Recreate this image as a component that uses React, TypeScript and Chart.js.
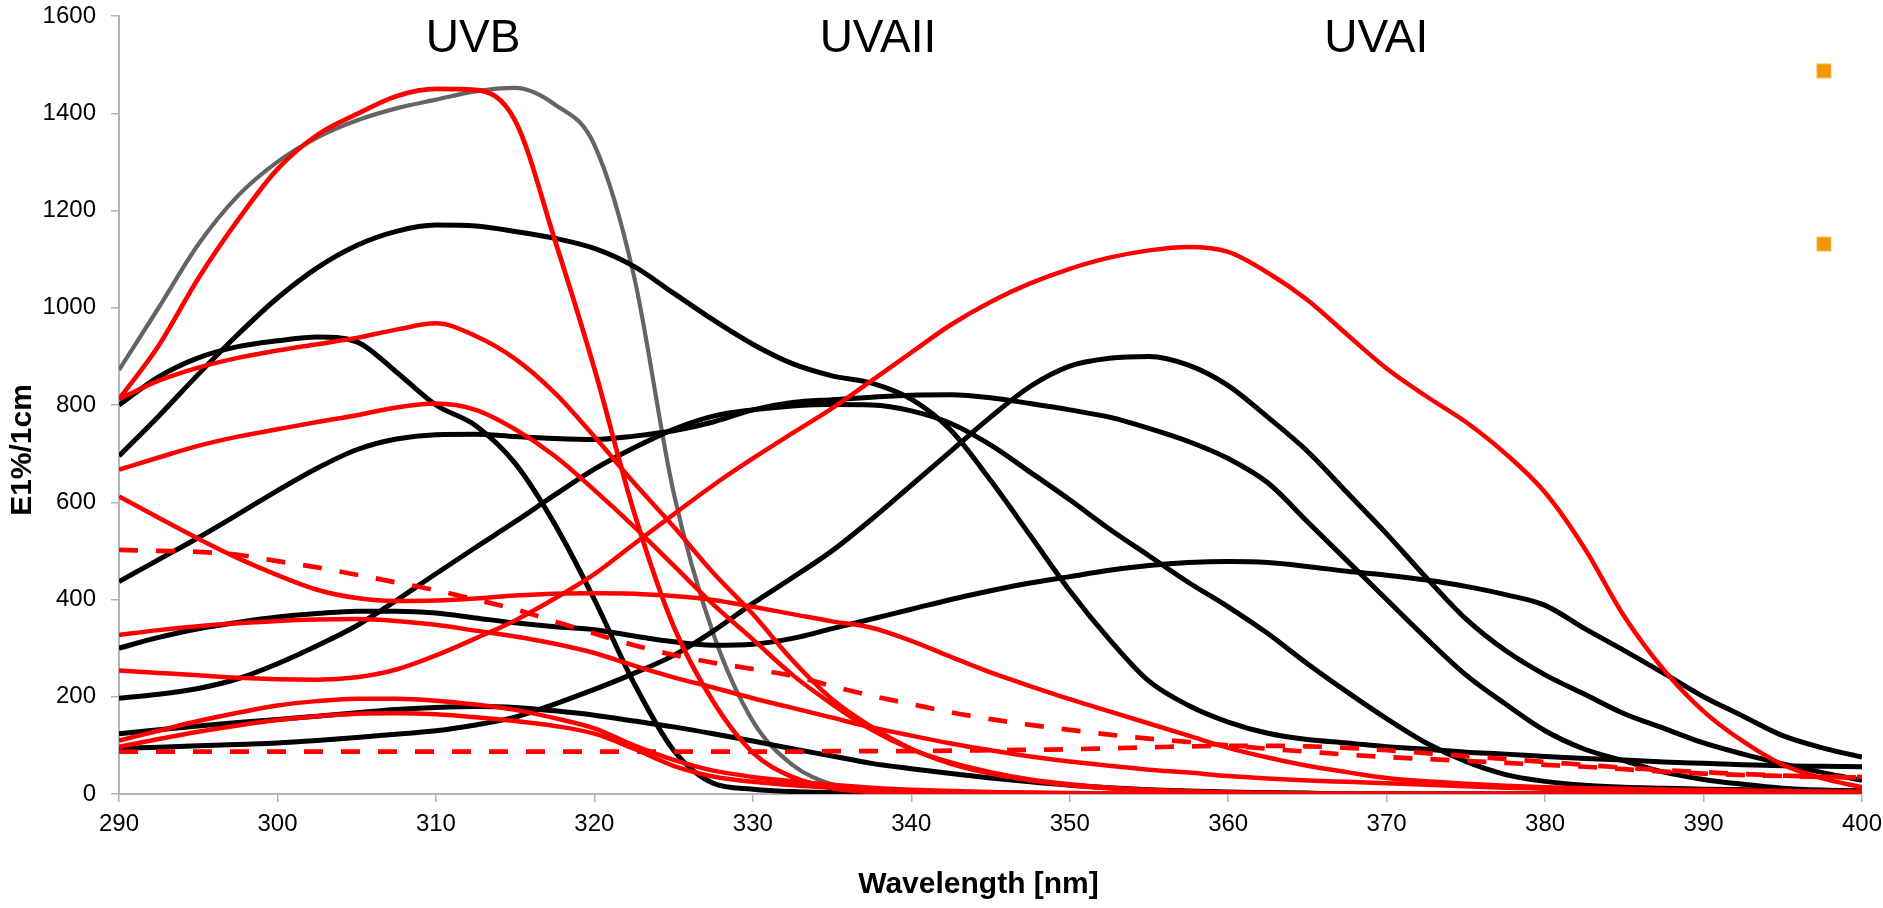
import React, { useEffect, useRef } from "react";
import { Chart, registerables } from "chart.js";

Chart.register(...registerables);

// ---------- data ----------
const wavelengths = [
  290, 292.5, 295, 297.5, 300, 302.5, 305, 307.5, 310, 312.5, 315, 317.5, 320, 322.5, 325,
  327.5, 330, 332.5, 335, 337.5, 340, 342.5, 345, 347.5, 350, 352.5, 355, 357.5, 360, 362.5,
  365, 367.5, 370, 372.5, 375, 377.5, 380, 382.5, 385, 387.5, 390, 392.5, 395, 397.5, 400,
];

const xTicks = [290, 300, 310, 320, 330, 340, 350, 360, 370, 380, 390, 400];
const yTicks = [0, 200, 400, 600, 800, 1000, 1200, 1400, 1600];

// grey UVB filter
const grayUVB = [
  872, 1000, 1130, 1230, 1300, 1350, 1385, 1410, 1428, 1445, 1452, 1418, 1335, 1065, 620,
  330, 150, 60, 20, 6, 1, 0, 0, 0, 0, 0, 0, 0, 0, 0,
  0, 0, 0, 0, 0, 0, 0, 0, 0, 0, 0, 0, 0, 0, 0,
];

// red solid curves
const redUVBHigh = [
  812, 922, 1060, 1180, 1285, 1355, 1398, 1435, 1450, 1448, 1385, 1140, 875, 580, 345,
  190, 85, 35, 12, 4, 0, 0, 0, 0, 0, 0, 0, 0, 0, 0,
  0, 0, 0, 0, 0, 0, 0, 0, 0, 0, 0, 0, 0, 0, 0,
];
const redPeak965 = [
  812, 850, 877, 897, 912, 925, 938, 955, 968, 942, 895, 825, 735, 640, 550,
  455, 370, 275, 195, 138, 93, 62, 42, 28, 18, 12, 8, 5, 3, 2,
  1, 0, 0, 0, 0, 0, 0, 0, 0, 0, 0, 0, 0, 0, 0,
];
const redPeak805 = [
  667, 692, 716, 735, 750, 765, 779, 795, 803, 790, 750, 695, 625, 550, 470,
  390, 318, 245, 185, 132, 92, 65, 45, 30, 20, 13, 8, 5, 3, 2,
  1, 0, 0, 0, 0, 0, 0, 0, 0, 0, 0, 0, 0, 0, 0,
];
const redPlateau410 = [
  612, 568, 525, 485, 450, 420, 403, 397, 398, 402, 408, 412, 413, 412, 407,
  399, 385, 370, 355, 342, 315, 282, 250, 222, 195, 170, 145, 120, 95, 75,
  58, 45, 33, 26, 21, 17, 14, 12, 11, 9, 8, 7, 6, 5, 5,
];
const redStart327 = [
  327, 337, 345, 351, 356, 359, 360, 356, 348, 336, 324, 309, 290, 264, 240,
  219, 197, 177, 157, 137, 120, 104, 90, 77, 67, 58, 50, 44, 37, 32,
  28, 25, 22, 19, 16, 13, 11, 9, 8, 7, 6, 5, 4, 4, 3,
];
const redUVAI = [
  254, 249, 244, 239, 236, 235, 240, 256, 285, 320, 357, 402, 452, 514, 575,
  635, 690, 742, 793, 850, 908, 965, 1012, 1050, 1080, 1103, 1118, 1125, 1115, 1072,
  1016, 945, 875, 818, 765, 700, 620, 505, 365, 255, 170, 108, 60, 32, 14,
];
const redPeak197 = [
  110, 130, 150, 167, 182, 191, 196, 196, 192, 184, 173, 156, 135, 100, 70,
  48, 35, 26, 19, 13, 9, 6, 4, 3, 2, 1, 0, 0, 0, 0,
  0, 0, 0, 0, 0, 0, 0, 0, 0, 0, 0, 0, 0, 0, 0,
];
const redPeak166 = [
  97, 113, 128, 141, 152, 160, 165, 166, 164, 158, 150, 140, 124, 93, 58,
  36, 25, 18, 13, 9, 6, 4, 3, 2, 1, 0, 0, 0, 0, 0,
  0, 0, 0, 0, 0, 0, 0, 0, 0, 0, 0, 0, 0, 0, 0,
];

// red dashed curves
const redDashedFalling = [
  502, 500, 498, 492, 479, 466, 451, 435, 419, 400, 380, 355, 330, 306, 286,
  270, 257, 243, 222, 202, 185, 168, 154, 142, 132, 122, 114, 107, 100, 93,
  87, 81, 76, 72, 68, 64, 60, 56, 51, 46, 42, 39, 37, 35, 34,
];
const redDashedFlat = [
  87, 87, 87, 87, 87, 87, 87, 87, 87, 87, 87, 87, 87, 87, 87,
  87, 87, 87, 88, 88, 88, 89, 90, 91, 92, 94, 96, 98, 99, 99,
  98, 95, 90, 84, 78, 72, 66, 60, 54, 49, 45, 41, 38, 36, 35,
];

// black curves
const blackPeak935 = [
  800, 858, 897, 920, 932, 940, 930, 868, 800, 758, 680, 555, 400, 228, 90,
  22, 10, 5, 3, 2, 1, 0, 0, 0, 0, 0, 0, 0, 0, 0,
  0, 0, 0, 0, 0, 0, 0, 0, 0, 0, 0, 0, 0, 0, 0,
];
const blackPeak1170 = [
  695, 777, 863, 945, 1020, 1082, 1128, 1157, 1170, 1168, 1157, 1143, 1122, 1085, 1030,
  975, 925, 885, 860, 845, 812, 748, 645, 532, 418, 318, 232, 182, 148, 125,
  112, 105, 97, 92, 86, 82, 77, 73, 70, 66, 63, 60, 58, 57, 56,
];
const blackPlateau735 = [
  437, 482, 527, 575, 624, 670, 708, 730, 739, 740, 735, 731, 729, 736, 747,
  765, 790, 805, 811, 816, 820, 821, 815, 803, 790, 775, 752, 725, 690, 640,
  560, 480, 400, 320, 245, 185, 130, 92, 68, 45, 30, 20, 12, 8, 6,
];
const blackPeak800 = [
  197, 205, 217, 237, 268, 305, 346, 398, 453, 507, 560, 615, 668, 712, 750,
  777, 790, 798, 801, 800, 788, 762, 718, 662, 605, 545, 490, 435, 385, 330,
  268, 210, 155, 105, 67, 40, 26, 18, 14, 12, 10, 9, 8, 7, 7,
];
const blackPlateau478 = [
  300, 322, 340, 353, 364, 371, 376, 376, 372, 362, 352, 344, 338, 325, 313,
  306, 308, 320, 340, 360, 380, 400, 418, 434, 447, 460, 470, 476, 478, 476,
  468, 458, 450, 440, 427, 410, 388, 340, 295, 248, 200, 160, 120, 95, 76,
];
const blackPeak180 = [
  124, 132, 140, 147, 153, 160, 167, 174, 178, 180, 178, 171, 162, 150, 138,
  124, 109, 93, 78, 63, 52, 42, 33, 25, 18, 13, 9, 6, 4, 3,
  2, 0, 0, 0, 0, 0, 0, 0, 0, 0, 0, 0, 0, 0, 0,
];
const blackUVAI = [
  94, 96, 99, 102, 105, 110, 116, 123, 130, 142, 158, 185, 215, 248, 285,
  335, 392, 445, 500, 565, 635, 705, 775, 838, 880, 896, 900, 882, 840, 775,
  705, 620, 535, 445, 360, 295, 245, 205, 165, 135, 105, 82, 62, 44, 28,
];

// orange markers
const orangeX = [397.6, 397.6];
const orangeY = [1487, 1131];

// band labels
const bandLabels = ["UVB", "UVAII", "UVAI"];
const bandCenters = [312.35, 337.9, 369.35];
const bandLabelValue = 1525;

const xTitle = "Wavelength [nm]";
const yTitle = "E1%/1cm";

// ---------- styling ----------
const FONT = '"Liberation Sans", Arial, Helvetica, sans-serif';
const RED = "#FF0000";
const BLACK = "#000000";
const GRAY = "#646464";
const AXIS = "#B4B4B4";

const toPoints = (vals: number[]) => wavelengths.map((w, i) => ({ x: w, y: vals[i] }));

const overlayPlugin = {
  id: "overlayText",
  afterDraw(chart: any) {
    const { ctx, scales, chartArea } = chart;
    const xs = scales.x;
    const ys = scales.y;
    ctx.save();
    ctx.fillStyle = "#000";
    ctx.font = `46px ${FONT}`;
    ctx.textAlign = "center";
    ctx.textBaseline = "alphabetic";
    bandLabels.forEach((t, i) => {
      ctx.fillText(t, xs.getPixelForValue(bandCenters[i]), ys.getPixelForValue(bandLabelValue));
    });
    ctx.font = `bold 30px ${FONT}`;
    ctx.textBaseline = "middle";
    const cx = (chartArea.left + chartArea.right) / 2 - 12;
    ctx.fillText(xTitle, cx, chart.height - 23);
    ctx.translate(23, (chartArea.top + chartArea.bottom) / 2 + 45);
    ctx.rotate(-Math.PI / 2);
    ctx.fillText(yTitle, 0, 0);
    ctx.restore();
  },
};

const zeroPadding = (scale: any) => {
  scale.paddingTop = 0;
  scale.paddingBottom = 0;
  scale.paddingLeft = 0;
  scale.paddingRight = 0;
};

export default function App() {
  const canvasRef = useRef<HTMLCanvasElement | null>(null);

  useEffect(() => {
    document.body.style.margin = "0";
    const canvas = canvasRef.current;
    if (!canvas) return;

    const line = (label: string, vals: number[], color: string, width: number, dash: number[] = []) => ({
      type: "line" as const,
      label,
      data: toPoints(vals),
      borderColor: color,
      backgroundColor: color,
      borderWidth: width,
      borderDash: dash,
      pointRadius: 0,
      fill: false,
      cubicInterpolationMode: "monotone" as const,
    });

    const datasets: any[] = [
      {
        type: "scatter",
        label: "markers",
        data: orangeX.map((x, i) => ({ x, y: orangeY[i] })),
        pointStyle: "rect",
        pointRadius: 10,
        backgroundColor: "#F39700",
        borderColor: "#F8C470",
        borderWidth: 1,
        showLine: false,
      },
      line("redUVBHigh", redUVBHigh, RED, 4.7),
      line("redPeak965", redPeak965, RED, 4.5),
      line("redPeak805", redPeak805, RED, 4.5),
      line("redPlateau410", redPlateau410, RED, 4.5),
      line("redStart327", redStart327, RED, 4.5),
      line("redUVAI", redUVAI, RED, 4.5),
      line("redPeak197", redPeak197, RED, 4.5),
      line("redPeak166", redPeak166, RED, 4.5),
      line("redDashedFalling", redDashedFalling, RED, 4.7, [19, 18]),
      line("redDashedFlat", redDashedFlat, RED, 4.7, [19, 18]),
      line("blackPeak935", blackPeak935, BLACK, 5),
      line("blackPeak1170", blackPeak1170, BLACK, 5),
      line("blackPlateau735", blackPlateau735, BLACK, 5),
      line("blackPeak800", blackPeak800, BLACK, 5),
      line("blackPlateau478", blackPlateau478, BLACK, 5),
      line("blackPeak180", blackPeak180, BLACK, 5),
      line("blackUVAI", blackUVAI, BLACK, 5),
      line("grayUVB", grayUVB, GRAY, 4.2),
    ];

    const chart = new Chart(canvas, {
      type: "line",
      data: { datasets },
      options: {
        animation: false,
        responsive: false,
        events: [],
        layout: { padding: { top: 16, right: 21, left: 0, bottom: 0 } },
        plugins: {
          legend: { display: false },
          tooltip: { enabled: false },
          title: { display: false },
        },
        scales: {
          x: {
            type: "linear",
            min: 290,
            max: 400,
            afterBuildTicks: (scale: any) => {
              scale.ticks = xTicks.map((v) => ({ value: v }));
            },
            afterFit: (scale: any) => {
              scale.height = 114;
              zeroPadding(scale);
            },
            ticks: {
              color: "#000",
              font: { family: FONT, size: 24 },
              padding: 8,
              maxRotation: 0,
              autoSkip: false,
              callback: (v: any) => String(v),
            },
            grid: {
              drawOnChartArea: false,
              drawTicks: true,
              tickLength: 8,
              color: AXIS,
              lineWidth: 1.5,
            },
            border: { display: true, color: AXIS, width: 2 },
          },
          y: {
            type: "linear",
            min: 0,
            max: 1600,
            afterBuildTicks: (scale: any) => {
              scale.ticks = yTicks.map((v) => ({ value: v }));
            },
            afterFit: (scale: any) => {
              scale.width = 119;
              zeroPadding(scale);
            },
            ticks: {
              color: "#000",
              font: { family: FONT, size: 24 },
              padding: 15,
              autoSkip: false,
              callback: (v: any) => String(v),
            },
            grid: {
              drawOnChartArea: false,
              drawTicks: true,
              tickLength: 8,
              color: AXIS,
              lineWidth: 1.5,
            },
            border: { display: true, color: AXIS, width: 2 },
          },
        },
      },
      plugins: [overlayPlugin],
    } as any);

    return () => chart.destroy();
  }, []);

  return (
    <div style={{ width: 1883, height: 908, position: "relative", background: "#fff" }}>
      <canvas
        ref={canvasRef}
        width={1883}
        height={908}
        style={{ display: "block", width: 1883, height: 908 }}
      />
    </div>
  );
}
